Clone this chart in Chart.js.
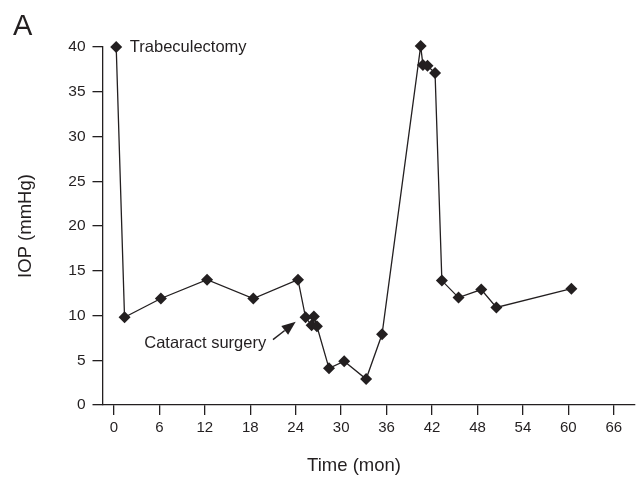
<!DOCTYPE html>
<html>
<head>
<meta charset="utf-8">
<script src="https://cdn.jsdelivr.net/npm/chart.js@4/dist/chart.umd.min.js"></script>
<style>
  html, body { margin: 0; padding: 0; background: #fff; }
  #wrap { width: 641px; height: 478px; position: relative; }
</style>
</head>
<body>
<div id="wrap"><canvas id="c" width="641" height="478"></canvas></div>
<script>
// Time (months) and IOP (mmHg)
const months = [0.3, 1.4, 6.2, 12.3, 18.4, 24.3, 25.3, 26.1, 26.4, 26.8, 28.4, 30.4, 33.3, 35.4, 40.5, 40.8, 41.4, 42.4, 43.3, 45.5, 48.5, 50.5, 60.4];
const iop    = [40, 9.8, 11.9, 14, 11.9, 14, 9.8, 8.9, 9.9, 8.8, 4.1, 4.9, 2.9, 7.9, 40.1, 38, 37.9, 37.1, 13.9, 12, 12.9, 10.9, 13];
const xTicks = [0, 6, 12, 18, 24, 30, 36, 42, 48, 54, 60, 66];
const yTicks = [0, 5, 10, 15, 20, 25, 30, 35, 40];
const panelLabel = 'A';
const xTitle = 'Time (mon)';
const yTitle = 'IOP (mmHg)';
const notes = [
  { text: 'Trabeculectomy', x: 2.1, y: 40 },
  { text: 'Cataract surgery', x: 4.0, y: 6.9 }
];
const arrow = { from: [21.0, 7.3], to: [24.0, 9.3] };

const INK = '#231f20';
const FONT = '"Liberation Sans", Arial, Helvetica, sans-serif';

const annotate = {
  id: 'annotate',
  afterDraw(chart) {
    const ctx = chart.ctx;
    const xs = chart.scales.x, ys = chart.scales.y;
    ctx.save();
    ctx.fillStyle = INK;
    ctx.strokeStyle = INK;
    // panel label
    ctx.font = '29px ' + FONT;
    ctx.textAlign = 'left';
    ctx.textBaseline = 'alphabetic';
    ctx.fillText(panelLabel, 13, 35);
    // x axis title (centred under the 0–66 tick range as in the figure)
    ctx.font = '18.5px ' + FONT;
    ctx.textAlign = 'center';
    ctx.textBaseline = 'middle';
    ctx.fillText(xTitle, xs.getPixelForValue(31.7), 466);
    // notes
    ctx.font = '16.5px ' + FONT;
    ctx.textAlign = 'left';
    notes.forEach(n => {
      ctx.fillText(n.text, xs.getPixelForValue(n.x), ys.getPixelForValue(n.y));
    });
    // arrow
    const x1 = xs.getPixelForValue(arrow.from[0]), y1 = ys.getPixelForValue(arrow.from[1]);
    const x2 = xs.getPixelForValue(arrow.to[0]), y2 = ys.getPixelForValue(arrow.to[1]);
    const ang = Math.atan2(y2 - y1, x2 - x1);
    const hl = 14, hw = 5.5;
    const bx = x2 - hl * Math.cos(ang), by = y2 - hl * Math.sin(ang);
    ctx.lineWidth = 1.4;
    ctx.beginPath();
    ctx.moveTo(x1, y1);
    ctx.lineTo(bx, by);
    ctx.stroke();
    ctx.beginPath();
    ctx.moveTo(x2, y2);
    ctx.lineTo(bx + hw * Math.sin(ang), by - hw * Math.cos(ang));
    ctx.lineTo(bx - hw * Math.sin(ang), by + hw * Math.cos(ang));
    ctx.closePath();
    ctx.fill();
    ctx.restore();
  }
};

new Chart(document.getElementById('c'), {
  type: 'line',
  data: {
    datasets: [{
      data: months.map((m, i) => ({ x: m, y: iop[i] })),
      borderColor: INK,
      borderWidth: 1.3,
      backgroundColor: INK,
      pointStyle: 'rectRot',
      pointRadius: 6,
      pointBorderWidth: 0,
      pointBackgroundColor: INK,
      tension: 0,
      fill: false,
      clip: false
    }]
  },
  options: {
    responsive: false,
    animation: false,
    devicePixelRatio: 1,
    layout: { padding: { top: 47, right: 4, bottom: 0, left: 0 } },
    plugins: { legend: { display: false }, tooltip: { enabled: false } },
    scales: {
      x: {
        type: 'linear',
        min: -1.51,
        max: 68.8,
        afterBuildTicks(s) { s.ticks = xTicks.map(v => ({ value: v })); },
        afterFit(s) { s.height = 73; },
        grid: { drawOnChartArea: false, drawTicks: true, tickLength: 10, color: INK, lineWidth: 1.3 },
        border: { display: true, color: INK, width: 1.3 },
        ticks: { color: INK, font: { family: FONT, size: 15 }, padding: 4, maxRotation: 0, autoSkip: false },
        title: { display: false }
      },
      y: {
        type: 'linear',
        min: 0,
        max: 40,
        afterBuildTicks(s) { s.ticks = yTicks.map(v => ({ value: v })); },
        afterFit(s) { s.width = 102.5; },
        grid: { drawOnChartArea: false, drawTicks: true, tickLength: 10, color: INK, lineWidth: 1.3 },
        border: { display: true, color: INK, width: 1.3 },
        ticks: { color: INK, font: { family: FONT, size: 15.5 }, padding: 7, autoSkip: false },
        title: { display: true, text: yTitle, color: INK, font: { family: FONT, size: 18.5 }, padding: { top: 15, bottom: 0 } }
      }
    }
  },
  plugins: [annotate]
});
</script>
</body>
</html>
